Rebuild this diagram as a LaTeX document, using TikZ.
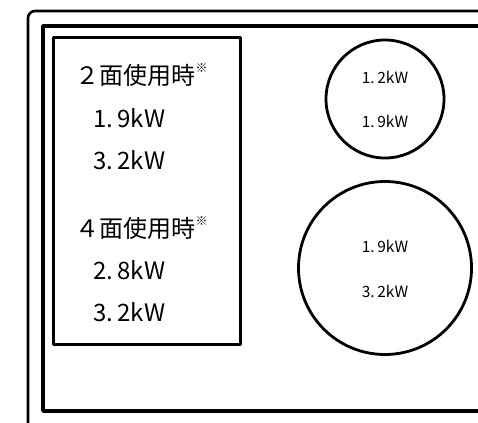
\documentclass[tikz,border=0pt]{standalone}
\usepackage{fontspec}
\setmainfont{Noto Sans CJK JP}
\usetikzlibrary{positioning}

\newcommand{\note}{\raisebox{0.5em}{\fontsize{12}{12}\selectfont ※}}

\begin{document}
\begin{tikzpicture}[x=1pt, y=-1pt, line join=round,
    zone/.style={circle, draw, line width=2.8pt, inner sep=0pt},
    bigtext/.style={font=\fontsize{24}{24}\selectfont, anchor=west},
    smalltext/.style={font=\fontsize{15.5}{15.5}\selectfont}]

    \useasboundingbox (0,0) rectangle (478,422);

    % top frame and inner frame
    \draw [line width=2.6pt, rounded corners=7pt] (28,430) -- (28,11) -- (490,11);
    \draw [line width=3.4pt] (490,26) -| (43,411) -- (490,411);

    % power table
    \node (panel) [draw, line width=2.8pt, minimum width=187pt, minimum height=307pt, anchor=north west] at (52,36) {};
    \foreach \name / \xpos / \ypos / \label in { head2/72/75/{２面使用時\note}, a2/90/118/{1.\,9kW}, b2/90/160/{3.\,2kW},
                                                  head4/72/228/{４面使用時\note}, a4/90/270/{2.\,8kW}, b4/90/312/{3.\,2kW} }
    \node (\name) [bigtext] at (\xpos, \ypos) {\label};

    % hobs
    \node (hobs) [zone, minimum size=118pt] at (385,99) {};
    \node (hobl) [zone, minimum size=173pt] at (385,268) {};
    \node (hobs1) [smalltext] at (385,77) {1.\,2kW};
    \node (hobs2) [smalltext] at (385,121) {1.\,9kW};
    \node (hobl1) [smalltext] at (385,246) {1.\,9kW};
    \node (hobl2) [smalltext] at (385,291) {3.\,2kW};

\end{tikzpicture}
\end{document}
